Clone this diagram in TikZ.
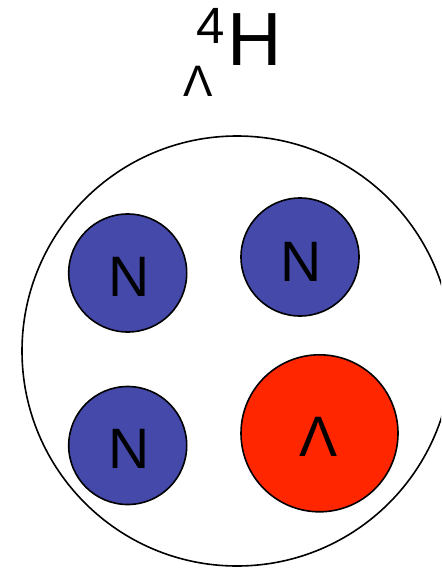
\documentclass[tikz,border=0pt]{standalone}
\usepackage{fontspec}
\setmainfont{Liberation Sans}
\definecolor{nblue}{HTML}{4449AA}
\definecolor{lred}{HTML}{FF2600}
\tikzset{
  nuc/.style={circle, draw=black, line width=1.6pt, inner sep=0pt},
  lab/.style={anchor=base, inner sep=0pt, font=\fontsize{57}{60}\selectfont},
}
\begin{document}
\begin{tikzpicture}[x=1pt,y=-1pt]
\useasboundingbox (0,0) rectangle (441,569);
\begin{scope}
\clip (0,0) rectangle (441,569);
\node[circle, draw=black, line width=1.6pt, minimum size=430pt, inner sep=0pt] (nucleus) at (237,351) {};
\end{scope}
\node[nuc, fill=nblue, minimum size=118pt] (n1) at (127.7,273) {};
\node[nuc, fill=nblue, minimum size=118pt] (n2) at (300,257) {};
\node[nuc, fill=nblue, minimum size=118pt] (n3) at (127.7,445.5) {};
\node[nuc, fill=lred, minimum size=157pt] (lam) at (319.5,433.3) {};
\node[lab] (t1) at (129,296) {N};
\node[lab] (t2) at (301,281) {N};
\node[lab] (t3) at (129,468) {N};
\node[lab] (t4) at (319,456.5) {Λ};
\node[anchor=base west, inner sep=0pt, font=\fontsize{75.4}{80}\selectfont] (H) at (227,65.7) {H};
\node[anchor=base west, inner sep=0pt, font=\fontsize{51}{55}\selectfont] (four) at (196,43.3) {4};
\node[anchor=base west, inner sep=0pt, font=\fontsize{44}{48}\selectfont] (sub) at (183,96.7) {Λ};
\end{tikzpicture}
\end{document}
